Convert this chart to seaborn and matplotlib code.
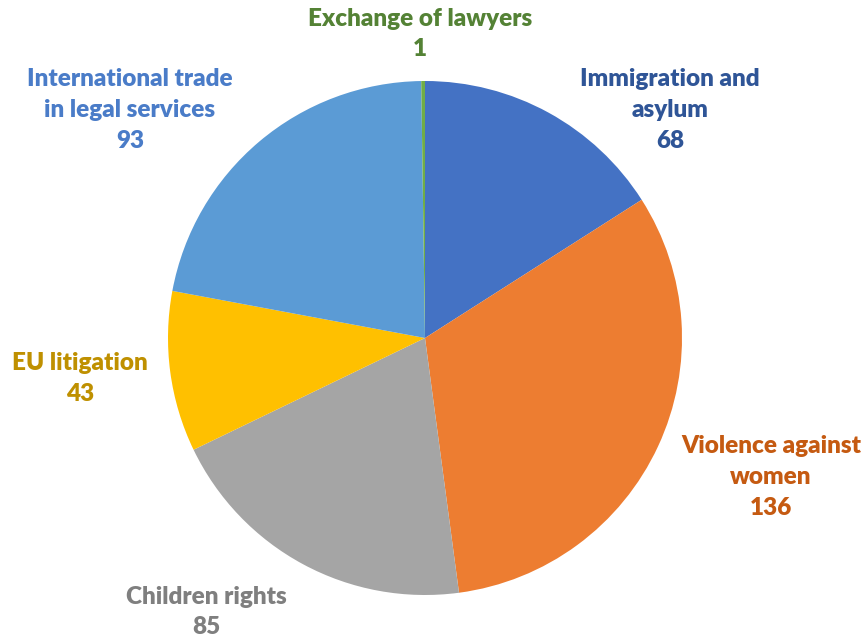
import matplotlib
matplotlib.use("Agg")
import matplotlib.pyplot as plt
import seaborn as sns

sns.set_theme(style="white")
plt.rcParams['font.family'] = ['Lato', 'DejaVu Sans']

categories = ["Immigration and\nasylum", "Violence against\nwomen", "Children rights",
              "EU litigation", "International trade\nin legal services", "Exchange of lawyers"]
values = [68, 136, 85, 43, 93, 1]

slice_colors = ["#4472C4", "#ED7D31", "#A5A5A5", "#FFC000", "#5B9BD5", "#70AD47"]
text_colors = ["#2F5597", "#C55A11", "#7F7F7F", "#BF9000", "#4A7CC8", "#548235"]
# label centres in figure pixels (x, y from top)
label_pos = [(670, 110), (771, 477), (206, 612), (80, 378), (130, 110), (420, 34)]

W, H = 868, 643
fig = plt.figure(figsize=(W / 100, H / 100), dpi=100)
cx, cy, r = 425, 338, 257
ax = fig.add_axes([(cx - r) / W, (H - cy - r) / H, 2 * r / W, 2 * r / H])
ax.pie(values, colors=slice_colors, startangle=90, counterclock=False,
       radius=1, wedgeprops=dict(linewidth=0))
ax.set_xlim(-1, 1)
ax.set_ylim(-1, 1)
ax.set_aspect('auto')
ax.axis('off')

for cat, val, col, (px, py) in zip(categories, values, text_colors, label_pos):
    fig.text(px / W, 1 - py / H, f"{cat}\n{val}", ha='center', va='center',
             multialignment='center', color=col, fontsize=17.5, fontweight='heavy',
             linespacing=1.5)

fig.savefig("out.png", dpi=100)
